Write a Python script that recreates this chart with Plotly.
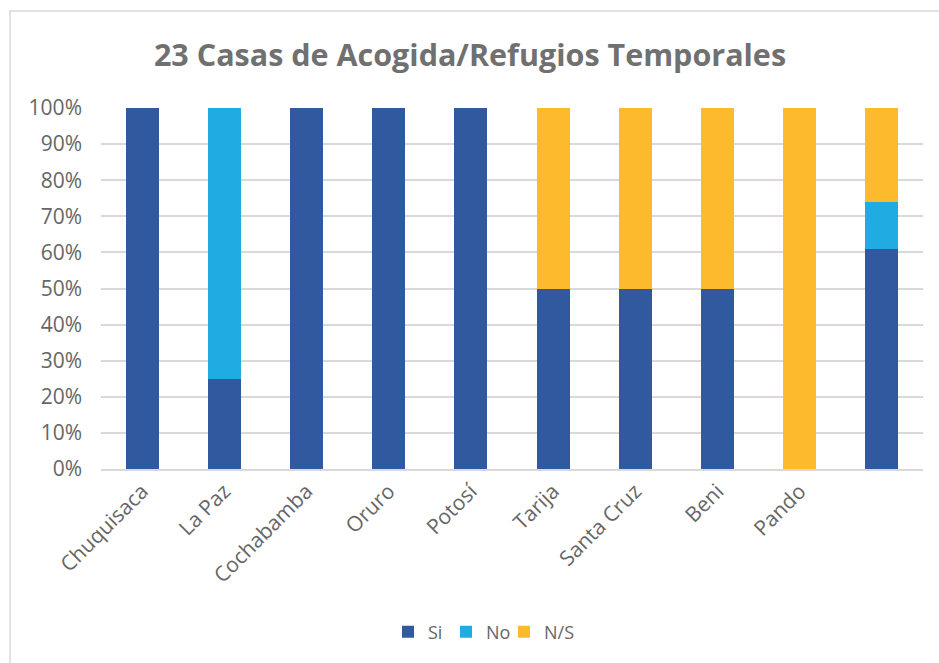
import plotly.graph_objects as go

categories = ["Chuquisaca", "La Paz", "Cochabamba", "Oruro", "Potosí", "Tarija",
              "Santa Cruz", "Beni", "Pando", " "]
si = [100, 25, 100, 100, 100, 50, 50, 50, 0, 60.87]
no = [0, 75, 0, 0, 0, 0, 0, 0, 0, 13.04]
ns = [0, 0, 0, 0, 0, 50, 50, 50, 100, 26.09]
y_ticks = [0, 10, 20, 30, 40, 50, 60, 70, 80, 90, 100]
y_tick_labels = [f"{v}%" for v in y_ticks]

colors = {"Si": "#3159A0", "No": "#20ABE2", "N/S": "#FDBA2C"}
font_fam = "Open Sans, Lato, sans-serif"
gray = "#666666"

W, H = 939, 663
L, R, T, B = 101, 16, 108, 194
pw, ph = W - L - R, H - T - B

fig = go.Figure()
for name, vals in [("Si", si), ("No", no), ("N/S", ns)]:
    fig.add_trace(go.Bar(x=categories, y=vals, name=name,
                         marker=dict(color=colors[name], line=dict(width=0)),
                         width=0.4))
# invisible spacer entries so the last legend label is not clipped
for _ in range(2):
    fig.add_trace(go.Scatter(x=[None], y=[None], mode="lines", name=" ",
                             line=dict(width=0, color="rgba(0,0,0,0)"),
                             hoverinfo="skip"))

fig.update_layout(
    barmode="stack",
    width=W, height=H,
    paper_bgcolor="white", plot_bgcolor="white",
    margin=dict(l=L, r=R, t=T, b=B, autoexpand=False),
    title=dict(text="<b>23 Casas de Acogida/Refugios Temporales</b>",
               x=470 / W, xanchor="center", y=1 - 55 / H, yanchor="middle",
               font=dict(family=font_fam, size=30.5, color="#707070")),
    font=dict(family=font_fam, color=gray),
    showlegend=True,
    legend=dict(orientation="h", x=(388 - L) / pw, xanchor="left",
                y=-(632 - T - ph) / ph, yanchor="middle",
                font=dict(size=18, color=gray), itemwidth=30,
                entrywidth=13, traceorder="normal"),
    bargap=0.6,
)
fig.update_yaxes(range=[0, 100], tickvals=y_ticks, ticktext=y_tick_labels,
                 showgrid=True, gridcolor="#D9D9D9", gridwidth=1.5,
                 tickfont=dict(size=21, color=gray), zeroline=False,
                 showline=False, ticks="", ticklen=0, ticklabelstandoff=18)
fig.update_xaxes(tickangle=-45, tickfont=dict(size=21, color=gray),
                 showline=True, linecolor="#D9D9D9", linewidth=1.5, ticks="")

fig.add_shape(type="rect", xref="paper", yref="paper",
              x0=-(L - 10) / pw, x1=1 + (R + 20) / pw,
              y0=-(B + 20) / ph, y1=1 + (T - 11) / ph,
              line=dict(color="#D9D9D9", width=1.5), fillcolor="rgba(0,0,0,0)", layer="below")

fig.write_html("out.html", config={"displayModeBar": False},
               post_script="document.body.style.margin='0';document.body.style.overflow='hidden';")
